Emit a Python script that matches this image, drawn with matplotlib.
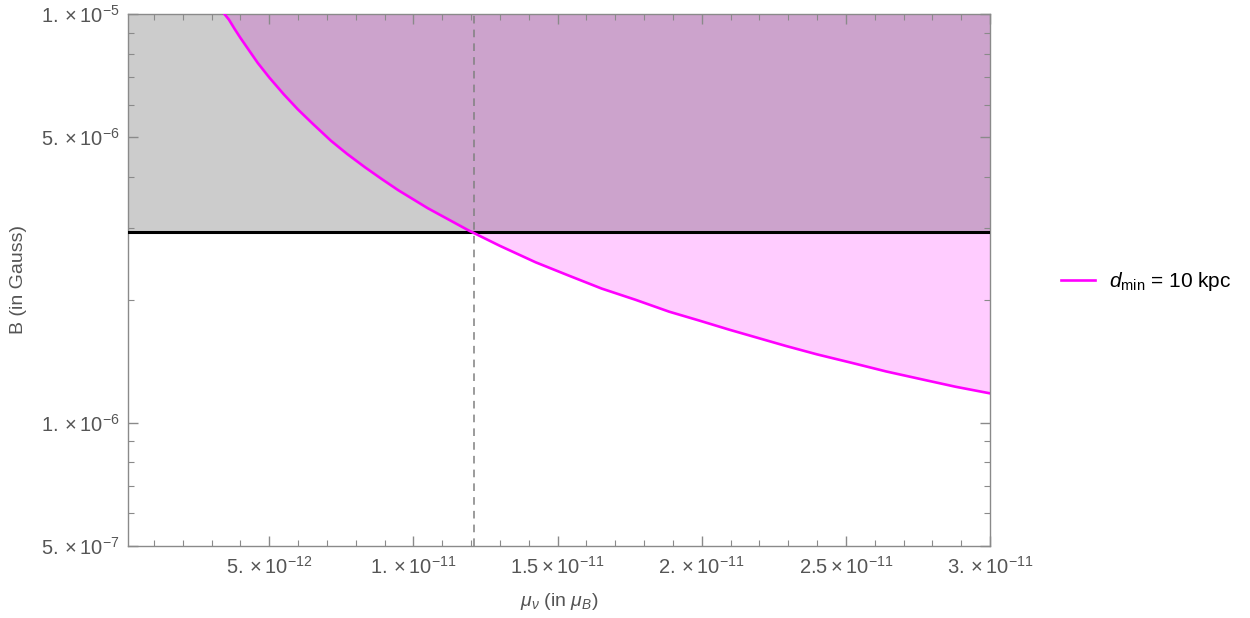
import matplotlib
matplotlib.use("Agg")
import matplotlib.pyplot as plt
from matplotlib.ticker import FixedLocator, LogLocator, NullFormatter, FixedFormatter

plt.rcParams["font.family"] = ["Liberation Sans", "DejaVu Sans"]
plt.rcParams["mathtext.fontset"] = "custom"
plt.rcParams["mathtext.rm"] = "Liberation Sans"
plt.rcParams["mathtext.it"] = "Liberation Sans:italic"
plt.rcParams["mathtext.bf"] = "Liberation Sans:bold"

# curve: mu (in mu_B) vs B (in Gauss)
mu_vals = [3.45e-12, 3.6e-12, 3.8e-12, 4.0e-12, 4.25e-12, 4.6e-12, 5.0e-12,
           5.5e-12, 5.99e-12, 6.5e-12, 7.14e-12, 7.7e-12, 8.32e-12, 8.9e-12,
           9.47e-12, 10.5e-12, 11.9e-12, 13.0e-12, 14.24e-12, 15.4e-12,
           16.53e-12, 17.7e-12, 18.87e-12, 19.9e-12, 20.95e-12, 22.94e-12,
           24.0e-12, 25.23e-12, 26.4e-12, 27.57e-12, 28.8e-12, 30.0e-12]
b_vals = [1.0e-5, 9.7e-6, 9.2e-6, 8.75e-6, 8.25e-6, 7.6e-6, 7.0e-6,
          6.37e-6, 5.85e-6, 5.4e-6, 4.9e-6, 4.55e-6, 4.22e-6, 3.95e-6,
          3.71e-6, 3.35e-6, 2.96e-6, 2.71e-6, 2.47e-6, 2.29e-6,
          2.13e-6, 2.0e-6, 1.87e-6, 1.78e-6, 1.69e-6, 1.54e-6,
          1.47e-6, 1.40e-6, 1.335e-6, 1.28e-6, 1.225e-6, 1.18e-6]

b_limit = 2.93e-6      # horizontal black line
mu_limit = 1.21e-11    # dashed vertical line

x_range = (1e-13, 3.0e-11)
y_range = (5e-7, 1e-5)

x_ticks = [5e-12, 1e-11, 1.5e-11, 2e-11, 2.5e-11, 3e-11]
x_ticklabels = [r"$5.\times10^{-12}$", r"$1.\times10^{-11}$", r"$1.5\times10^{-11}$",
                r"$2.\times10^{-11}$", r"$2.5\times10^{-11}$", r"$3.\times10^{-11}$"]
y_ticks = [5e-7, 1e-6, 5e-6, 1e-5]
y_ticklabels = [r"$5.\times10^{-7}$", r"$1.\times10^{-6}$", r"$5.\times10^{-6}$",
                r"$1.\times10^{-5}$"]

legend_label = r"$d_{\mathrm{min}}$ = 10 kpc"

TEXT = "#555555"
FRAME = "#8a8a8a"

fig = plt.figure(figsize=(12.5, 6.18), dpi=100)
ax = fig.add_axes([0.1024, 0.117, 0.6896, 0.860])
ax.set_yscale("log")
ax.set_xlim(*x_range)
ax.set_ylim(*y_range)

# pink region above the curve, grey region above the line laid over it
ax.fill_between(mu_vals, b_vals, y_range[1], color="magenta", alpha=0.2, lw=0)
ax.axhspan(b_limit, y_range[1], color="black", alpha=0.2, lw=0)

ax.plot(mu_vals, b_vals, color="magenta", lw=1.9, label=legend_label, zorder=4)
ax.axhline(b_limit, color="black", lw=2.2, zorder=3)
ax.axvline(mu_limit, color="#808080", lw=1.1, ls=(0, (5, 4)), zorder=3)

ax.xaxis.set_major_locator(FixedLocator(x_ticks))
ax.xaxis.set_major_formatter(FixedFormatter(x_ticklabels))
ax.xaxis.set_minor_locator(FixedLocator([i * 1e-12 for i in range(1, 31)]))
ax.yaxis.set_major_locator(FixedLocator(y_ticks))
ax.yaxis.set_major_formatter(FixedFormatter(y_ticklabels))
ax.yaxis.set_minor_locator(LogLocator(base=10, subs=range(2, 10)))
ax.yaxis.set_minor_formatter(NullFormatter())

ax.tick_params(which="both", direction="in", top=True, right=True,
               color=FRAME, labelcolor=TEXT, labelsize=14.5)
ax.tick_params(which="major", length=7, width=1)
ax.tick_params(which="minor", length=4, width=0.8)
ax.tick_params(axis="x", pad=7)
ax.tick_params(axis="y", pad=6)
for sp in ax.spines.values():
    sp.set_color(FRAME)
    sp.set_linewidth(1)

ax.set_xlabel(r"$\mu_\nu$ (in $\mu_B$)", color=TEXT, fontsize=14, labelpad=10)
ax.set_ylabel("B (in Gauss)", color=TEXT, fontsize=14, labelpad=10)

ax.legend(loc="center left", bbox_to_anchor=(1.061, 0.497), frameon=False,
          fontsize=15, handlelength=1.6, handletextpad=0.7)

fig.savefig("out.png", dpi=100)
